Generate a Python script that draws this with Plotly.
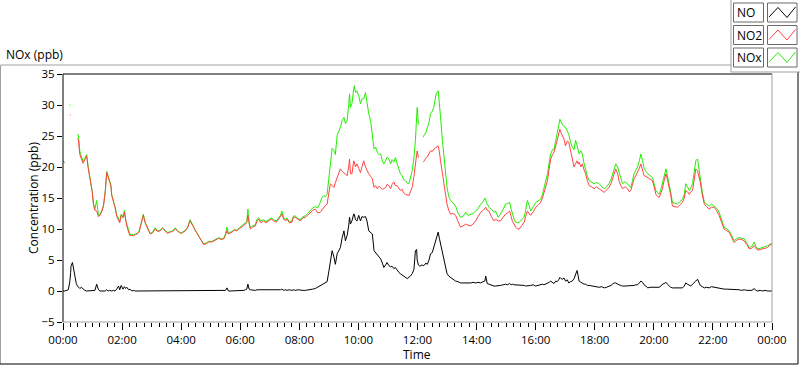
import plotly.graph_objects as go
import pandas as pd

# ---------------- data (hours since midnight, ppb) ----------------
hours = [0.00,0.05,0.06,0.18,0.23,0.26,0.27,0.32,0.38,0.45,0.49,0.52,0.57,0.62,0.68,0.74,0.80,0.85,0.94,0.99,
1.03,1.08,1.14,1.20,1.25,1.31,1.37,1.43,1.48,1.53,1.57,1.62,1.65,1.71,1.76,1.82,1.88,1.92,1.97,2.03,
2.08,2.12,2.16,2.22,2.27,2.33,2.38,2.45,2.52,2.58,2.63,2.68,2.72,2.78,2.84,2.90,2.95,3.04,3.12,3.20,
3.29,3.37,3.46,3.54,3.63,3.71,3.80,3.88,3.97,4.05,4.14,4.22,4.30,4.36,4.42,4.48,4.53,4.58,4.64,4.70,
4.76,4.84,4.93,5.04,5.15,5.27,5.36,5.44,5.50,5.55,5.60,5.66,5.72,5.80,5.89,5.97,6.06,6.12,6.17,6.22,
6.26,6.30,6.34,6.42,6.51,6.57,6.62,6.70,6.79,6.87,6.96,7.05,7.13,7.22,7.30,7.36,7.41,7.47,7.53,7.58,
7.66,7.75,7.80,7.86,7.95,8.03,8.12,8.20,8.28,8.37,8.45,8.54,8.62,8.71,8.76,8.82,8.88,8.94,9.00,9.05,
9.11,9.17,9.22,9.28,9.34,9.39,9.45,9.51,9.56,9.62,9.67,9.70,9.73,9.78,9.84,9.86,9.90,9.95,10.01,10.07,
10.12,10.18,10.24,10.29,10.35,10.41,10.47,10.53,10.58,10.64,10.70,10.75,10.81,10.86,10.92,10.97,11.03,11.09,11.14,11.20,
11.25,11.31,11.37,11.42,11.48,11.53,11.59,11.65,11.71,11.76,11.82,11.88,11.93,11.97,11.99,12.03,12.08,12.15,12.20,12.22,
12.28,12.33,12.39,12.44,12.50,12.55,12.60,12.63,12.70,12.74,12.78,12.84,12.89,12.95,13.00,13.06,13.12,13.20,13.29,13.37,
13.46,13.54,13.63,13.71,13.80,13.88,13.97,14.05,14.14,14.22,14.28,14.31,14.36,14.42,14.50,14.59,14.64,14.73,14.81,14.90,
14.98,15.05,15.12,15.17,15.21,15.27,15.32,15.38,15.44,15.52,15.61,15.66,15.72,15.78,15.83,15.92,16.00,16.08,16.17,16.23,
16.28,16.34,16.40,16.46,16.51,16.57,16.62,16.68,16.73,16.78,16.82,16.86,16.90,16.96,17.01,17.07,17.12,17.18,17.24,17.30,
17.35,17.40,17.44,17.47,17.53,17.58,17.64,17.69,17.75,17.81,17.90,17.98,18.06,18.15,18.24,18.32,18.40,18.48,18.55,18.60,
18.66,18.71,18.77,18.82,18.88,18.94,19.02,19.11,19.17,19.22,19.28,19.33,19.39,19.45,19.51,19.56,19.62,19.67,19.73,19.79,
19.87,19.95,20.01,20.07,20.12,20.18,20.24,20.29,20.35,20.41,20.46,20.52,20.57,20.63,20.71,20.80,20.88,20.97,21.03,21.08,
21.14,21.20,21.25,21.31,21.37,21.42,21.48,21.53,21.57,21.64,21.71,21.79,21.87,21.95,22.04,22.12,22.21,22.30,22.38,22.47,
22.55,22.64,22.72,22.80,22.89,22.97,23.06,23.15,23.23,23.32,23.40,23.45,23.51,23.60,23.68,23.76,23.85,23.96,24.00]

no2 = [21.0,20.7,None,None,28.4,28.4,None,None,None,None,24.6,24.4,22.0,21.3,20.6,21.2,21.8,19.9,17.5,16.0,
14.0,13.0,12.9,12.0,12.2,12.8,13.7,16.0,19.1,18.3,17.9,17.0,15.4,14.5,13.5,12.0,11.3,11.0,12.2,11.8,
12.7,11.2,10.5,9.5,8.9,9.0,8.9,9.1,9.2,9.6,10.5,11.5,12.2,11.0,10.3,9.6,9.2,9.4,10.0,9.6,
9.7,10.1,9.7,9.3,9.5,9.6,10.0,9.6,9.3,9.4,9.7,10.2,11.3,10.8,10.3,9.6,9.2,8.8,8.4,7.9,
7.5,7.6,7.9,7.9,8.2,8.5,8.3,8.4,9.0,9.7,9.2,9.3,9.5,9.8,9.7,10.1,10.3,10.6,10.8,11.0,
12.2,10.7,10.0,10.3,10.5,11.3,11.6,11.0,11.3,11.0,11.3,11.6,11.3,11.1,11.6,12.0,12.4,11.6,11.3,11.6,
11.0,11.1,11.9,11.9,11.5,11.3,11.8,11.9,12.2,12.7,13.0,13.2,12.6,12.7,13.0,13.5,13.8,14.0,15.5,17.3,
17.0,16.7,17.5,18.3,19.0,19.7,19.3,19.1,18.8,18.6,20.0,21.3,18.9,18.9,21.0,20.8,20.0,20.5,19.8,19.1,
20.0,21.0,20.0,19.4,18.9,18.5,18.1,16.7,17.0,16.5,16.9,16.7,16.4,16.5,16.7,17.2,17.0,16.5,17.2,17.6,
17.0,17.0,16.5,16.2,16.4,15.8,15.6,15.5,15.4,16.0,16.7,18.5,21.0,22.0,22.6,21.5,None,None,20.8,21.0,
21.4,21.6,22.3,22.6,22.5,22.9,23.0,23.2,23.4,22.5,21.0,19.0,17.3,15.5,14.0,13.0,12.4,12.5,12.2,11.2,
10.3,10.5,10.8,10.6,10.5,10.8,11.3,12.0,12.7,13.0,13.3,13.5,13.0,12.9,12.0,11.3,11.6,11.3,11.3,11.9,
12.4,12.6,12.9,12.0,11.3,10.8,10.3,10.0,10.0,10.5,11.1,12.0,12.9,12.5,12.2,12.8,13.5,13.8,14.3,15.0,
15.9,16.8,17.8,19.8,21.3,22.0,22.4,23.4,24.3,25.3,26.1,25.5,25.1,24.5,23.4,24.2,24.0,22.5,21.0,20.0,
20.5,21.0,20.5,20.8,20.0,20.5,19.5,18.9,17.8,17.0,16.8,16.5,16.8,16.5,16.2,15.9,16.3,16.7,17.3,18.1,
19.0,19.7,19.0,17.8,17.0,16.5,16.8,16.5,16.0,16.2,17.2,18.1,18.6,19.1,19.8,20.5,19.5,18.6,18.5,18.3,
18.0,17.8,16.8,15.6,15.3,15.1,15.8,16.5,17.8,18.9,18.0,16.7,15.5,13.7,13.6,13.5,13.9,14.3,15.0,16.2,
16.0,15.6,16.0,16.2,18.0,19.7,19.4,18.5,17.6,15.5,14.0,13.6,13.2,13.5,13.5,13.0,12.2,11.0,10.0,9.7,
9.5,8.6,7.8,8.2,8.4,8.3,8.1,7.5,6.8,6.9,7.3,7.0,6.6,6.7,6.8,7.0,7.0,7.6,7.5]

nox = [21.0,20.7,None,None,30.0,30.0,None,None,None,None,25.3,25.2,22.5,21.8,20.9,21.4,22.0,20.1,17.6,16.0,
14.1,13.2,14.6,12.2,12.3,12.9,13.8,16.1,19.3,18.5,18.0,17.1,15.5,14.6,13.6,12.2,11.8,11.2,12.4,12.0,
13.0,11.4,10.8,9.8,9.1,9.2,9.0,9.2,9.3,9.7,10.6,11.6,12.4,11.1,10.4,9.7,9.3,9.5,10.2,9.7,
9.8,10.2,9.8,9.4,9.6,9.7,10.2,9.7,9.4,9.5,9.8,10.3,11.5,11.0,10.4,9.7,9.3,8.9,8.5,8.0,
7.6,7.7,8.0,8.0,8.3,8.6,8.4,8.5,9.2,10.3,9.3,9.4,9.6,9.9,9.8,10.2,10.5,10.8,11.0,11.2,
13.2,10.9,10.2,10.5,10.7,11.6,11.8,11.3,11.5,11.2,11.5,11.8,11.5,11.3,11.8,12.2,12.9,11.8,11.5,11.8,
11.2,11.3,12.1,12.1,11.7,11.5,12.0,12.1,12.5,13.0,13.4,13.6,13.4,14.3,15.0,15.4,15.2,15.6,18.0,20.5,
23.0,22.7,22.0,25.1,25.8,26.4,27.5,28.0,27.0,27.5,30.0,31.8,29.6,30.2,32.6,33.1,32.0,32.3,31.5,30.2,
31.0,31.0,32.0,30.2,28.6,27.5,25.3,22.9,23.2,22.4,22.0,22.1,21.0,20.5,21.0,21.6,21.3,20.5,21.2,20.8,
21.5,20.5,19.8,18.9,18.6,18.0,17.8,17.4,17.3,18.2,19.4,21.5,24.3,28.0,29.6,26.9,None,None,24.8,25.1,
25.5,26.4,27.2,28.6,29.0,29.6,31.0,31.8,32.3,30.5,28.1,24.5,21.6,19.0,16.7,15.2,14.6,14.2,13.7,12.6,
11.9,12.0,12.7,12.2,12.4,12.5,12.9,13.3,14.0,14.4,15.0,14.6,14.0,13.5,13.2,12.7,12.9,11.9,12.4,13.2,
14.0,14.1,14.3,13.2,12.4,11.6,11.1,11.0,11.1,11.5,11.9,13.0,14.6,13.8,12.9,13.6,14.3,14.5,14.8,15.6,
16.5,17.6,18.9,20.8,22.1,22.8,22.9,24.3,25.3,26.7,27.7,27.2,26.9,26.5,26.4,25.8,25.3,24.0,23.2,22.8,
24.3,23.5,22.5,22.1,22.6,22.1,20.5,19.4,18.5,17.8,17.5,17.3,17.5,17.3,16.8,16.5,16.8,17.3,18.0,18.9,
19.9,20.5,20.0,19.1,18.0,17.3,17.6,17.3,16.9,16.7,17.8,18.9,19.5,20.0,21.0,22.1,21.0,19.8,19.3,18.9,
18.6,18.3,17.3,16.2,15.9,15.6,16.4,17.3,18.6,19.7,18.6,17.3,16.0,14.3,14.1,14.0,14.4,14.8,15.6,17.3,
16.8,16.2,16.6,17.3,19.3,21.0,21.3,19.5,18.3,16.0,14.3,14.0,13.7,14.0,13.7,13.4,12.7,11.3,10.3,10.0,
9.7,8.9,8.1,8.5,8.6,8.5,8.4,7.7,7.0,7.2,7.9,7.2,6.8,6.9,7.0,7.2,7.3,7.6,7.5]

no = [0.0,0.0,0.0,0.2,1.5,3.0,4.0,4.6,3.0,1.2,0.8,0.6,0.4,0.6,0.3,0.1,0.0,0.0,0.0,0.0,
0.0,0.1,1.1,0.2,0.0,0.0,0.1,0.0,0.2,0.0,0.1,0.0,0.0,0.1,0.0,0.3,0.8,0.2,0.9,0.3,
0.7,0.4,0.6,0.2,0.3,0.0,0.1,0.0,0.0,0.1,0.0,0.0,0.0,0.1,0.0,0.0,0.0,0.1,0.0,0.0,
0.0,0.0,0.0,0.0,0.1,0.0,0.0,0.0,0.0,0.0,0.0,0.1,0.1,0.0,0.0,0.0,0.0,0.0,0.1,0.0,
0.0,0.0,0.0,0.0,0.0,0.1,0.0,0.0,0.1,0.5,0.0,0.0,0.0,0.0,0.1,0.0,0.0,0.1,0.2,0.3,
1.1,0.3,0.2,0.1,0.1,0.2,0.2,0.1,0.1,0.2,0.1,0.1,0.2,0.1,0.1,0.2,0.3,0.1,0.2,0.1,
0.2,0.1,0.2,0.1,0.2,0.1,0.1,0.1,0.2,0.3,0.3,0.4,0.6,0.8,1.0,1.2,1.3,1.5,3.2,4.5,
6.5,5.5,4.3,6.0,6.7,7.0,8.6,9.7,8.1,9.0,10.5,11.9,10.8,11.3,12.4,12.4,11.5,11.3,12.2,11.3,
12.0,11.9,12.0,11.3,9.7,9.5,9.2,6.5,6.2,5.7,5.4,5.2,4.5,3.8,4.2,4.6,4.1,3.9,4.0,3.6,
3.8,3.3,3.0,2.8,2.6,2.4,2.2,2.0,2.2,2.4,2.8,3.5,6.5,6.7,5.0,4.2,4.0,4.2,4.1,4.1,
4.5,4.3,5.0,6.0,6.2,7.0,8.0,8.6,9.5,8.5,7.6,6.0,4.9,3.8,2.8,2.4,2.2,1.8,1.6,1.5,
1.3,1.3,1.3,1.2,1.3,1.4,1.3,1.4,1.3,1.5,1.6,2.4,1.2,1.1,0.9,0.8,0.8,0.8,0.9,1.0,
1.1,1.0,1.2,1.0,1.1,1.0,1.0,0.9,0.9,1.0,0.9,0.8,0.8,0.9,0.9,1.0,0.8,0.9,1.0,1.1,
1.0,1.1,1.2,1.4,1.6,1.3,1.2,1.6,1.5,1.8,2.2,2.0,1.9,2.1,1.6,1.8,1.3,1.5,1.6,2.0,
2.8,3.3,2.4,1.6,1.4,1.2,1.1,1.1,0.9,0.9,0.8,0.8,0.7,0.6,0.7,0.5,0.6,0.7,0.9,1.1,
1.3,1.3,1.1,1.0,0.9,0.8,0.8,0.8,0.9,0.8,0.9,0.9,1.0,1.0,1.3,1.6,1.4,1.0,0.8,0.5,
0.6,0.6,0.5,0.5,0.6,0.6,0.8,1.1,1.2,1.4,1.1,0.8,0.6,0.5,0.5,0.5,0.6,0.5,0.8,1.3,
1.1,0.9,0.8,1.1,1.3,1.6,1.9,1.2,0.9,0.7,0.5,0.6,0.5,0.7,0.6,0.5,0.4,0.4,0.3,0.3,
0.3,0.2,0.2,0.2,0.2,0.1,0.2,0.1,0.1,0.1,0.4,0.1,0.0,0.1,0.0,0.1,0.0,0.0,0.0]

series_names = ["NO", "NO2", "NOx"]
series_colors = ["#000000", "#ff4444", "#22ee00"]
y_ticks = [-5, 0, 5, 10, 15, 20, 25, 30, 35]

# ---------------- figure ----------------
base = pd.Timestamp("2000-01-01")
t = [base + pd.Timedelta(hours=h) for h in hours]

FONT = "Open Sans, Noto Sans, sans-serif"
W, H = 800, 365
L, R, T, B = 63, 772, 74, 322


def fx(px):
    return (px - L) / (R - L)


def fy(py):
    return (B - py) / (B - T)


fig = go.Figure()
# draw order: NOx (green) first, then NO2 (red), then NO (black)
for name, vals, col in [("NOx", nox, series_colors[2]), ("NO2", no2, series_colors[1]), ("NO", no, series_colors[0])]:
    fig.add_trace(go.Scatter(x=t, y=vals, mode="lines", name=name,
                             line=dict(color=col, width=1), connectgaps=False,
                             showlegend=False, hoverinfo="skip"))

fig.update_layout(
    width=W, height=H,
    margin=dict(l=L, r=W - R, t=T, b=H - B, autoexpand=False),
    paper_bgcolor="white", plot_bgcolor="white",
    font=dict(family=FONT, size=11, color="#000000"),
    showlegend=False,
)
fig.update_xaxes(
    type="date", automargin=False,
    range=[base, base + pd.Timedelta(hours=24)],
    tickformat="%H:%M", dtick=2 * 3600 * 1000, tick0=base,
    ticks="outside", ticklen=7, tickcolor="#000000", tickwidth=1,
    minor=dict(dtick=15 * 60 * 1000, ticks="outside", ticklen=4, tickcolor="#000000", tickwidth=1, showgrid=False),
    showgrid=False, zeroline=False, showline=False,
    tickfont=dict(size=11.5),
)
fig.update_yaxes(
    range=[-5, 35], tickvals=y_ticks, automargin=False,
    ticks="outside", ticklen=5, tickcolor="#000000", tickwidth=1,
    showgrid=False, zeroline=False, showline=False,
    tickfont=dict(size=11.5),
)

shapes = []


def line(x0, y0, x1, y1, color, width=1):
    shapes.append(dict(type="line", xref="paper", yref="paper",
                       x0=fx(x0), y0=fy(y0), x1=fx(x1), y1=fy(y1),
                       line=dict(color=color, width=width), layer="above"))


# plot frame
line(L, T, R, T, "#000000")
line(L, T, L, B, "#000000")
line(R, T, R, B, "#a0a0a0")
line(L, B, R, B, "#a0a0a0")
# outer frame
line(0.5, 65, 731, 65, "#a0a0a0")
line(0.5, 65, 0.5, 364, "#a0a0a0")
line(0, 364, 798, 364, "#000000")
line(798, 72, 798, 364, "#000000")
# legend panel
line(731, 0, 731, 72, "#a0a0a0")
line(731, 72, 800, 72, "#a0a0a0")

annotations = [
    dict(text="NOx (ppb)", xref="paper", yref="paper", x=fx(4), y=fy(55),
         xanchor="left", yanchor="middle", showarrow=False,
         font=dict(size=12, family=FONT, color="#000000")),
    dict(text="Time", xref="paper", yref="paper", x=fx(417), y=fy(354),
         xanchor="center", yanchor="middle", showarrow=False,
         font=dict(size=12, family=FONT, color="#000000")),
    dict(text="Concentration (ppb)", xref="paper", yref="paper", x=fx(33), y=fy(198),
         xanchor="center", yanchor="middle", showarrow=False, textangle=-90,
         font=dict(size=12, family=FONT, color="#000000")),
]

for i, (name, col) in enumerate(zip(series_names, series_colors)):
    y0 = 3 + i * 22.5
    y1 = y0 + 19
    shapes.append(dict(type="rect", xref="paper", yref="paper",
                       x0=fx(733.5), x1=fx(763.5), y0=fy(y1), y1=fy(y0),
                       line=dict(color="#6a6a6a", width=1), fillcolor="#ffffff", layer="above"))
    shapes.append(dict(type="rect", xref="paper", yref="paper",
                       x0=fx(767.5), x1=fx(797), y0=fy(y1), y1=fy(y0),
                       line=dict(color="#6a6a6a", width=1), fillcolor="#ffffff", layer="above"))
    pts = [(769, y0 + 14), (778, y0 + 4.5), (787, y0 + 14.5), (795.5, y0 + 4)]
    path = "M " + " L ".join(f"{fx(a):.5f},{fy(b):.5f}" for a, b in pts)
    shapes.append(dict(type="path", xref="paper", yref="paper", path=path,
                       line=dict(color=col, width=1), layer="above"))
    annotations.append(dict(text=name, xref="paper", yref="paper", x=fx(735), y=fy((y0 + y1) / 2),
                            xanchor="left", yanchor="middle", showarrow=False,
                            font=dict(size=12, family=FONT, color="#000000")))

fig.update_layout(shapes=shapes, annotations=annotations)
fig.write_html("out.html", config={"displayModeBar": False},
               post_script="document.body.style.margin='0px';document.body.style.overflow='hidden';")
